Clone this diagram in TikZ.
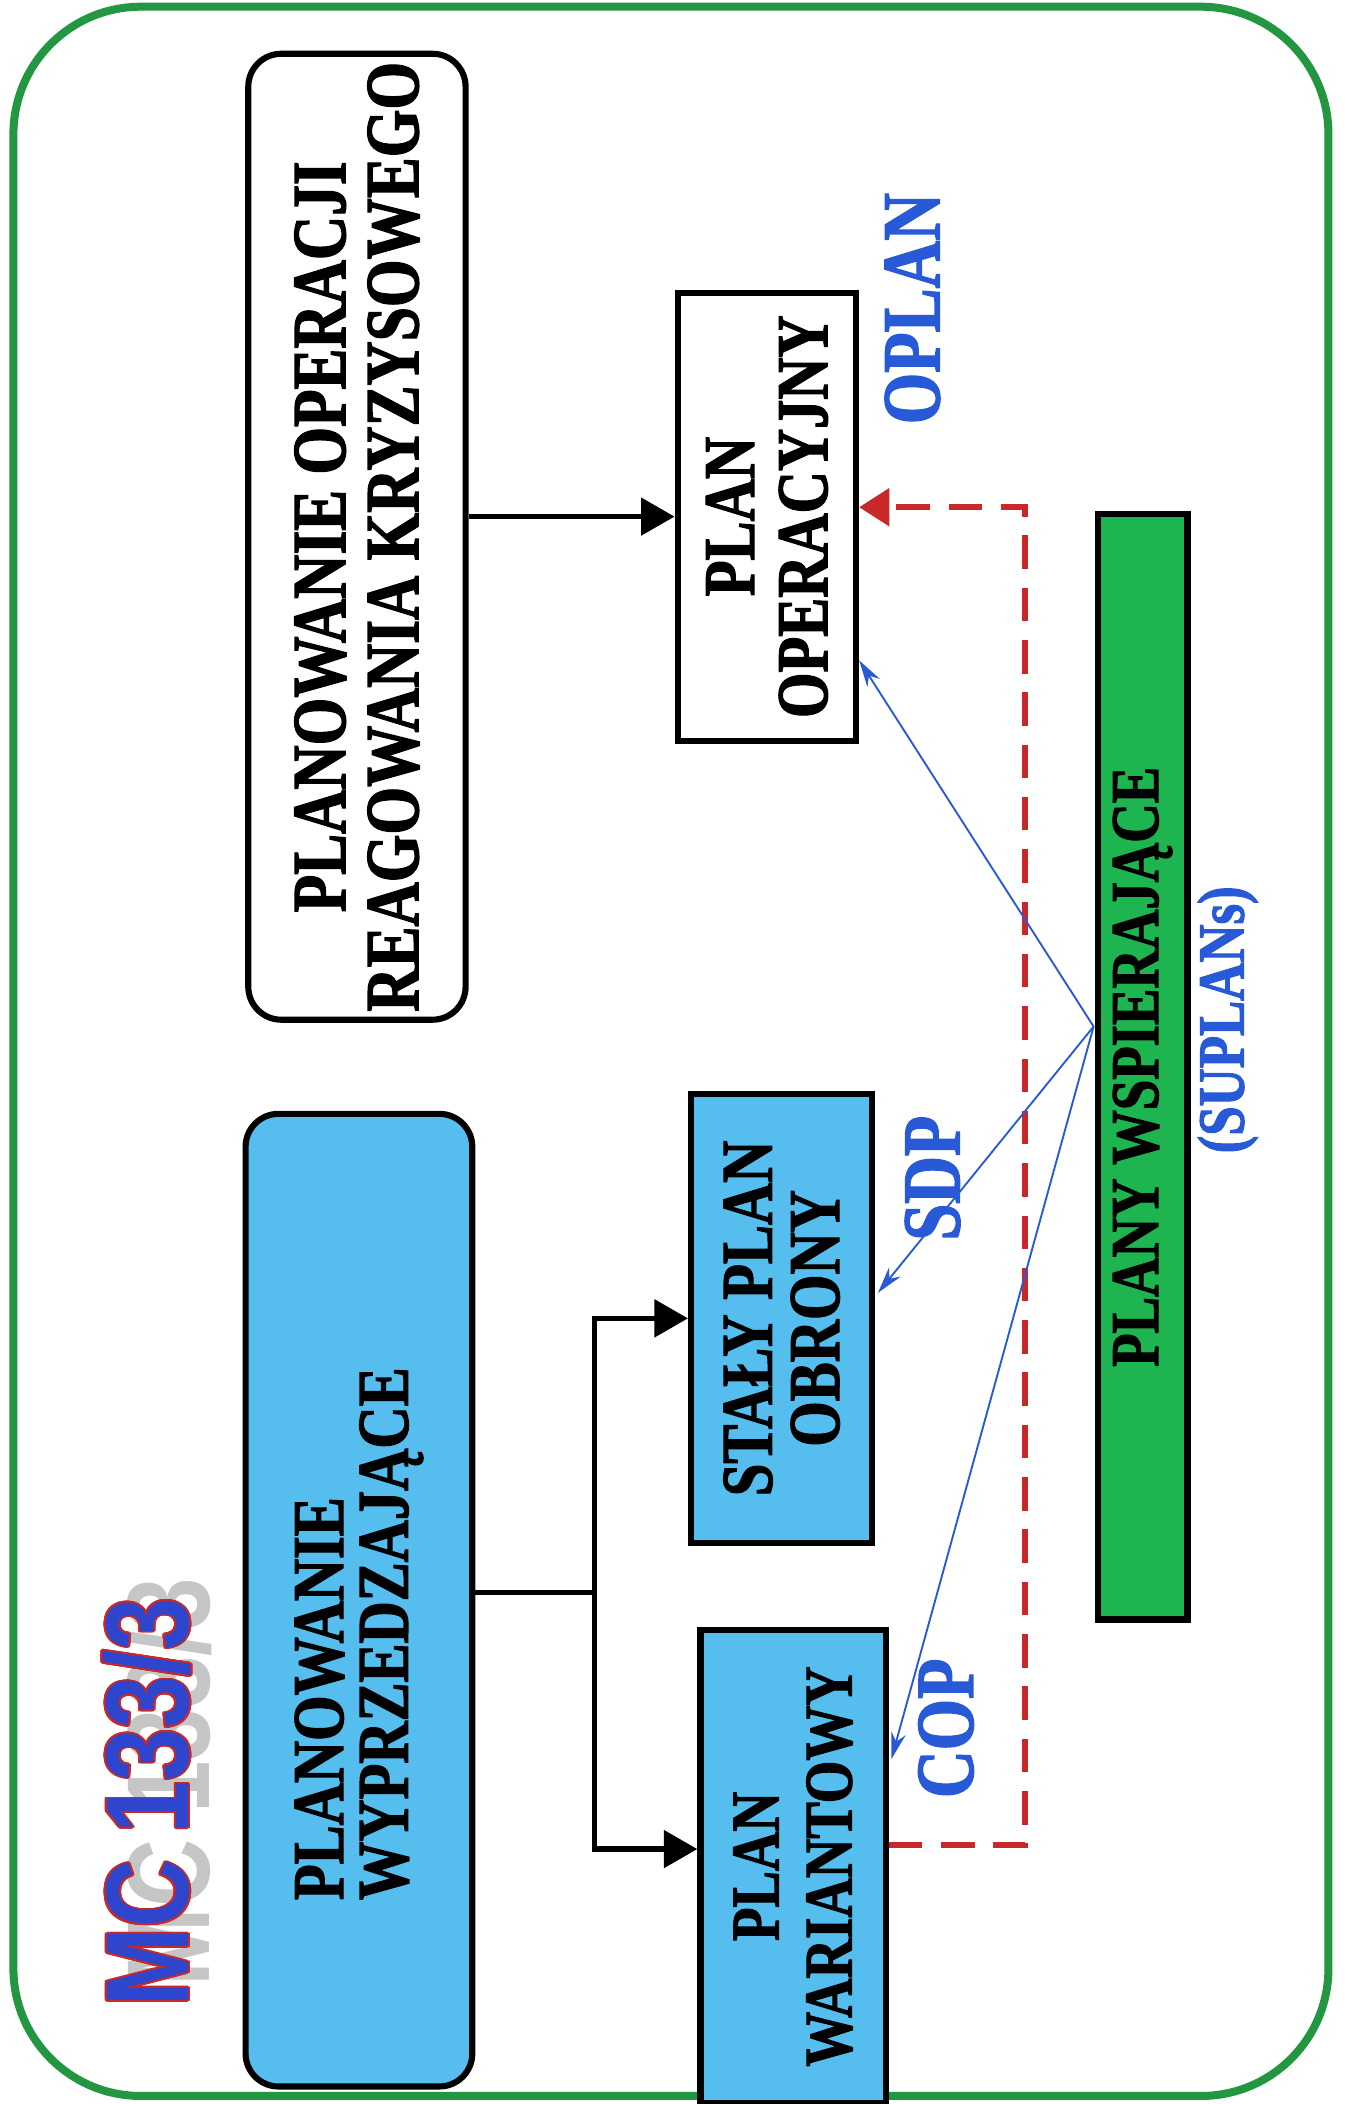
\documentclass[tikz,border=0pt]{standalone}
\usepackage{fontspec}
\setmainfont{Liberation Serif}[FakeStretch=0.8,BoldFeatures={FakeBold=1.6}]
\setsansfont{Liberation Sans}
\usepackage{contour}
\usetikzlibrary{arrows.meta,calc}
\definecolor{frameg}{RGB}{35,150,65}
\definecolor{planc}{RGB}{85,190,238}
\definecolor{planyg}{RGB}{30,180,80}
\definecolor{acrob}{RGB}{40,90,215}
\definecolor{linkr}{RGB}{200,40,40}
\definecolor{mcblue}{RGB}{45,70,205}
\contourlength{0.7pt}

\begin{document}
\begin{tikzpicture}[x=0.02cm,y=-0.02cm,
  box/.style={draw,line width=2.6pt,rotate=90,align=center,inner sep=0pt,
    font=\bfseries\fontsize{31}{31}\selectfont},
  rbox/.style={box,rounded corners=14pt},
  acro/.style={rotate=90,text=acrob,font=\bfseries\fontsize{35}{38}\selectfont},
  mc/.style={rotate=90,font=\sffamily\bfseries\fontsize{40}{40}\selectfont},
  arr/.style={-{Triangle[length=5mm,width=5.5mm]},line width=2.3pt},
  suparr/.style={-{Stealth[length=4mm,width=2.2mm]},acrob,line width=0.8pt},
  link/.style={-{Triangle[length=4.5mm,width=5.5mm]},linkr,line width=2.6pt,
    dash pattern=on 0.5cm off 0.28cm}
]
\useasboundingbox (0,0) rectangle (1002,1568);
\draw[frameg,line width=3.4pt,rounded corners=1.9cm] (10,5) rectangle (990,1562);

\node[mc,text=gray!45] (mcs) at (125,1328) {\scalebox{1}[1.25]{MC 133/3}};
\node[mc,text=mcblue] (mct) at (110,1343) {\scalebox{1}[1.25]{\contour{linkr}{MC 133/3}}};

\node[rbox,fill=white,minimum width=14.4cm,minimum height=3.24cm,
  font=\bfseries\fontsize{32.5}{31}\selectfont] (opr) at (266,400)
  {PLANOWANIE OPERACJI\\REAGOWANIA KRYZYSOWEGO};
\node[rbox,fill=planc,minimum width=14.5cm,minimum height=3.38cm,align=left,
  font=\bfseries\fontsize{31}{27.5}\selectfont] (pw) at (267.5,1192.5)
  {PLANOWANIE\\WYPRZEDZAJĄCE\rule{1cm}{0pt}};
\node[box,fill=white,minimum width=6.68cm,minimum height=2.66cm] (plop) at (571.5,385) {PLAN\\OPERACYJNY};
\node[box,fill=planc,minimum width=6.7cm,minimum height=2.7cm,
  font=\bfseries\fontsize{31}{28.5}\selectfont] (spo) at (582.5,982.5) {STAŁ\kern-.12em Y PLAN\\OBRONY};
\node[box,fill=planc,minimum width=7.04cm,minimum height=2.76cm,
  font=\bfseries\fontsize{29}{31}\selectfont] (pwar) at (591,1391) {PLAN\\WARIANTOWY};
\node[box,fill=planyg,minimum width=16.48cm,minimum height=1.34cm,
  font=\bfseries\fontsize{29}{30}\selectfont] (pws) at (851.5,795) {PLANY WSPIERAJĄCE};

\node[acro] (oplan) at (680,230) {OPLAN};
\node[acro] (sdp) at (695,878) {SDP};
\node[acro] (cop) at (705,1288) {COP};
\node[acro,font=\bfseries\fontsize{28}{30}\selectfont] (suplans) at (915,760) {(SUPLANs)};

\coordinate (br) at (443,1187);
\coordinate (hub) at (815,765);
\coordinate (rd1) at (764,1375);
\coordinate (rd2) at (764,378);

\draw[arr] (plop.north -| opr.south) -- (plop.north);
\draw[line width=2.3pt] (pw.south |- br) -- (br);
\draw[arr] (br) |- (spo);
\draw[arr] (br) |- ($(pwar.north)+(0,-13)$);

\draw[link] (pwar.south |- rd1) -- (rd1) -- (rd2) -- (rd2 -| plop.south);

\draw[suparr] (hub) -- (plop);
\draw[suparr] (hub) -- ($(spo.south)+(2,-19)$);
\draw[suparr] (hub) -- ($(pwar.south)+(2,-80)$);
\end{tikzpicture}
\end{document}
